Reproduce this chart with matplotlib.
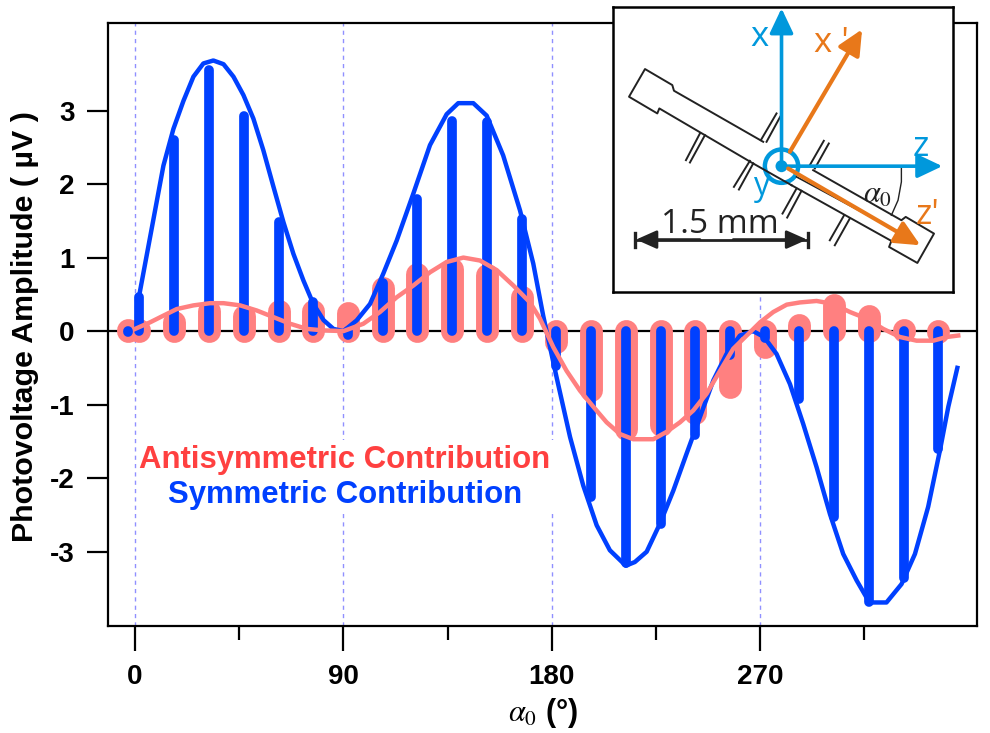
import matplotlib
matplotlib.use('Agg')
import matplotlib.pyplot as plt
from matplotlib.patches import Rectangle, Circle

plt.rcParams['font.family'] = ['Liberation Sans', 'DejaVu Sans']
plt.rcParams['mathtext.fontset'] = 'stix'
plt.rcParams['axes.unicode_minus'] = False

# measured points (sticks), one every 15 deg plus the first two
angles = [-3, 1.7, 17, 32, 47, 62, 77, 92, 107, 122, 137, 152, 167, 182, 197, 212,
          227, 242, 257, 272, 287, 302, 317, 332, 347]
sym_vals = [-0.01, 0.47, 2.60, 3.55, 2.92, 1.49, 0.40, -0.05, 0.65, 1.79, 2.86, 2.85, 1.53,
            -0.48, -2.25, -3.16, -2.62, -1.41, -0.33, -0.10, -0.92, -2.53, -3.68, -3.36, -1.60]
anti_vals = [0.01, 0.02, 0.12, 0.28, 0.21, 0.27, 0.27, 0.24, 0.58, 0.77, 0.85, 0.76, 0.46,
             -0.15, -0.80, -1.33, -1.28, -1.12, -0.76, -0.22, 0.08, 0.35, 0.21, 0.01, -0.01]

# fitted curves
sym_fit_x = [1.87, 7.92, 12.24, 16.56, 20.88, 25.2, 29.5, 33.8, 38.2, 42.5, 46.8, 51.1, 55.4,
             59.8, 64.1, 68.4, 72.7, 77.0, 81.4, 85.7, 90.0, 95.7, 101.5, 107.2, 113, 120.2,
             127.4, 134.6, 139.6, 146.1, 151.9, 159, 166.3, 172, 176.3, 182.1, 187.9, 193.6,
             199.4, 205.1, 212, 215.9, 221, 226.7, 232.5, 238.2, 244, 249.8, 255.5, 261.3,
             267, 271.7, 277.1, 282.9, 288.6, 294.4, 300.2, 305.9, 311.7, 317.2, 324.6,
             331.1, 336.9, 342.6, 347.7, 351.3, 355.2]
sym_fit_y = [0.50, 1.52, 2.25, 2.75, 3.13, 3.46, 3.64, 3.68, 3.63, 3.46, 3.21, 2.89, 2.46,
             1.96, 1.48, 1.05, 0.69, 0.37, 0.15, 0.03, 0.0, 0.145, 0.37, 0.78, 1.23, 1.87,
             2.53, 2.95, 3.10, 3.10, 2.93, 2.39, 1.64, 0.92, 0.21, -0.63, -1.44, -2.10,
             -2.64, -2.98, -3.19, -3.14, -3.0, -2.62, -2.17, -1.67, -1.17, -0.67, -0.31, -0.06,
             0.0, -0.08, -0.31, -0.72, -1.26, -1.85, -2.49, -3.03, -3.39, -3.69, -3.69,
             -3.44, -3.03, -2.39, -1.62, -1.03, -0.50]
anti_fit_x = [0, 6.5, 12.2, 18, 25.2, 32.4, 38.2, 45.4, 52.6, 59.8, 67, 74.2, 81.4, 90, 98.6,
              105.8, 113, 120.2, 127.4, 134.6, 141.8, 149, 156.2, 163.4, 170.6, 174.9, 180.7,
              186.4, 192.2, 198, 203.7, 209.5, 215.2, 223.9, 229.6, 235.4, 241.1, 246.9,
              252.7, 258.4, 264.2, 270, 275.7, 281.5, 287.2, 294.4, 301.6, 308.8, 316, 323.2,
              330.4, 337.6, 344.8, 350.6, 355.6]
anti_fit_y = [0.03, 0.12, 0.21, 0.30, 0.35, 0.38, 0.38, 0.35, 0.28, 0.19, 0.10, 0.03, 0.01, 0.0,
              0.10, 0.26, 0.46, 0.62, 0.80, 0.94, 1.0, 0.96, 0.83, 0.62, 0.39, 0.17, -0.22,
              -0.54, -0.81, -1.03, -1.24, -1.40, -1.47, -1.47, -1.37, -1.24, -1.08, -0.85,
              -0.54, -0.24, -0.06, 0.12, 0.26, 0.36, 0.39, 0.41, 0.37, 0.26, 0.17, 0.03,
              -0.08, -0.13, -0.13, -0.08, -0.06]

major_x = [0, 90, 180, 270]
minor_x = [45, 135, 225, 315]
yticks = [-3, -2, -1, 0, 1, 2, 3]

BLUE = '#0040ff'
PINK = '#ff8080'
W, H = 990., 733.

fig = plt.figure(figsize=(9.9, 7.33), dpi=100)
ax = fig.add_axes([108/W, 1-626/H, (977-108)/W, (626-23)/H])

for x in major_x:
    ax.axvline(x, color='#9090ff', lw=1, ls=(0, (3, 3)), zorder=1)
ax.axhline(0, color='k', lw=1.6, zorder=1.2)
ax.add_patch(Rectangle((1.3, -2.48), 180.1, 1.0, fc='w', ec='none', zorder=1.5))

ax.vlines(angles, 0, anti_vals, color=PINK, lw=16.5, capstyle='round', zorder=2)
ax.vlines(angles, 0, sym_vals, color=BLUE, lw=7, capstyle='round', zorder=3)
ax.plot(sym_fit_x, sym_fit_y, color=BLUE, lw=3.2, zorder=4)
ax.plot(anti_fit_x, anti_fit_y, color=PINK, lw=3.2, zorder=5)

ax.set_xlim(-11.7, 363.7)
ax.set_ylim(-4.01, 4.19)
ax.set_xticks(major_x)
ax.set_xticks(minor_x, minor=True)
ax.set_yticks(yticks)
ax.tick_params(axis='x', which='major', length=18, width=1.6, pad=9, labelsize=20)
ax.tick_params(axis='x', which='minor', length=10, width=1.6)
ax.tick_params(axis='y', which='major', length=15, width=1.6, pad=9, labelsize=20)
for lab in ax.get_xticklabels() + ax.get_yticklabels():
    lab.set_fontweight('bold')
for each in ('top', 'bottom', 'right', 'left'):
    ax.spines[each].set_linewidth(1.6)

fig.text(25/W, 1-327/H, 'Photovoltage Amplitude ( µV )', rotation=90, ha='center', va='center',
         fontsize=21.9, fontweight='bold')
fig.text(543/W, 1-713/H, r'$\alpha_0$ (°)', ha='center', va='center', fontsize=22, fontweight='bold')

ax.text(90.5, -1.75, 'Antisymmetric Contribution', color='#ff4040', ha='center', va='center',
        fontsize=22.4, fontweight='bold', zorder=6)
ax.text(90.5, -2.23, 'Symmetric Contribution', color=BLUE, ha='center', va='center',
        fontsize=22.4, fontweight='bold', zorder=6)

# inset sketch, coordinates are in its own pixel-like grid
SKY = '#0098dc'
ORANGE = '#e8781a'
ins = fig.add_axes([612.7/W, 1-292/H, (953-612.7)/W, (292-7.3)/H], zorder=10)
ins.set_xlim(38, 1060)
ins.set_ylim(875, 22)
ins.set_xticks([])
ins.set_yticks([])
for each in ('top', 'bottom', 'right', 'left'):
    ins.spines[each].set_linewidth(1.8)

bar_upper_x = [490, 222, 217, 135, 87, 172, 178, 460]
bar_upper_y = [425, 272, 255, 207, 290, 340, 325, 490]
bar_lower_x = [640, 905, 918, 1003, 953, 868, 875, 575]
bar_lower_y = [510, 660, 650, 700, 788, 740, 722, 555]
ins.plot(bar_upper_x, bar_upper_y, color='#222222', lw=1.4)
ins.plot(bar_lower_x, bar_lower_y, color='#222222', lw=1.4)
ins.plot([460, 575], [490, 555], color='#222222', lw=1.4)

pads_x = [(483, 530), (500, 541), (630, 672), (645, 687), (258, 300), (270, 315),
          (402, 450), (417, 460), (548, 590), (562, 605), (690, 733), (705, 750)]
pads_y = [(420, 340), (425, 350), (495, 422), (505, 430), (480, 400), (487, 405),
          (560, 482), (568, 490), (640, 565), (652, 572), (720, 645), (735, 655)]
for px, py in zip(pads_x, pads_y):
    ins.plot(px, py, color='#222222', lw=1.4)


def arrow(ax_, tail, head, color, lw=2.6, hl=1.1, hw=0.55, ms=16):
    ax_.annotate('', xy=head, xytext=tail,
                 arrowprops=dict(arrowstyle='-|>,head_length=%g,head_width=%g' % (hl, hw),
                                 color=color, lw=lw, shrinkA=0, shrinkB=0, mutation_scale=ms))


arrow(ins, (545, 490), (545, 25), SKY, hl=0.95, hw=0.45)
arrow(ins, (545, 498), (1028, 498), SKY, hl=0.95, hw=0.45)
arrow(ins, (570, 455), (787, 88), ORANGE, lw=3, hl=0.95, hw=0.45)
arrow(ins, (565, 505), (962, 735), ORANGE, lw=3, hl=0.95, hw=0.45)
ins.plot([590, 860], [530, 675], color='#222222', lw=1.2)
ins.plot([600, 905], [497, 497], color='#222222', lw=1.2)
ins.plot([905, 905, 895, 875], [497, 545, 600, 645], color='#222222', lw=1.0)

ins.add_patch(Circle((545, 498), 50, fc='none', ec=SKY, lw=3.2))
ins.add_patch(Circle((545, 498), 18, fc=SKY, ec='none'))

ins.plot([105, 625], [718, 718], color='#222222', lw=2)
arrow(ins, (300, 718), (108, 718), '#222222', lw=2, hl=0.9, hw=0.4, ms=14)
arrow(ins, (400, 718), (622, 718), '#222222', lw=2, hl=0.9, hw=0.4, ms=14)
ins.plot([106, 106], [698, 740], color='#222222', lw=2.4)
ins.plot([624, 624], [698, 740], color='#222222', lw=2.4)

ins.text(480, 112, 'x', color=SKY, fontsize=25, family='Open Sans', ha='center', va='center')
ins.text(962, 442, 'z', color=SKY, fontsize=25, family='Open Sans', ha='center', va='center')
ins.text(482, 558, 'y', color=SKY, fontsize=23, family='Open Sans', ha='center', va='center')
ins.text(695, 130, "x '", color=ORANGE, fontsize=25, family='Open Sans', ha='center', va='center')
ins.text(985, 645, "z'", color=ORANGE, fontsize=25, family='Open Sans', ha='center', va='center')
ins.text(360, 672, '1.5 mm', color='#222222', fontsize=24, family='Open Sans', ha='center', va='center')
ins.text(832, 583, r'$\alpha_0$', color='#222222', fontsize=22, ha='center', va='center')

fig.savefig('out.png', dpi=100)
